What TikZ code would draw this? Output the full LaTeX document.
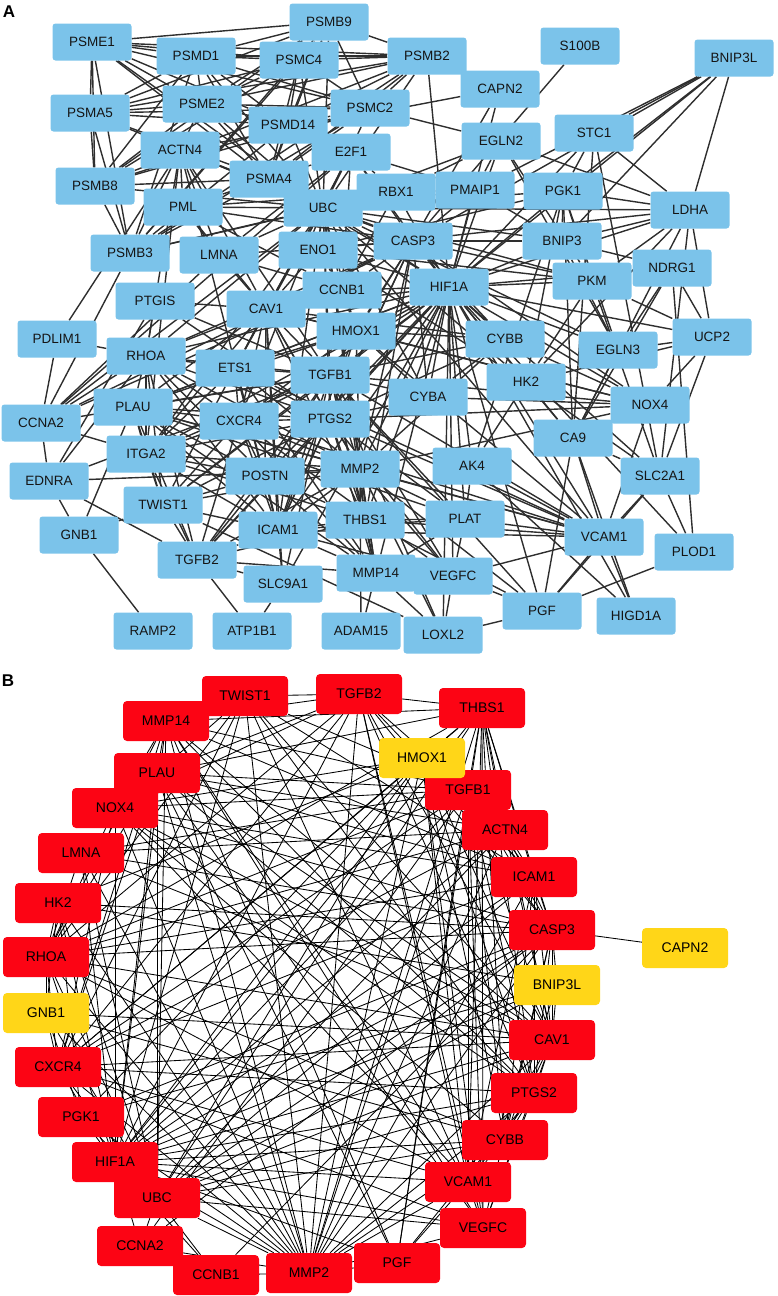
\documentclass[tikz,border=0pt]{standalone}
\usepackage{fontspec}
\setmainfont{Liberation Sans}
\usetikzlibrary{backgrounds}
\definecolor{ablue}{HTML}{7BC3EA}
\definecolor{bred}{HTML}{FC0414}
\definecolor{byel}{HTML}{FFD618}
\definecolor{egray}{HTML}{2E2E2E}
\definecolor{txt}{HTML}{151515}
\tikzset{
  anode/.style={rectangle, rounded corners=3pt, fill=ablue, minimum width=79pt, minimum height=37pt, inner sep=0pt, text=txt, font=\fontsize{13.5}{13.5}\selectfont},
  bnode/.style={rectangle, rounded corners=4pt, fill=bred, minimum width=86pt, minimum height=40pt, inner sep=0pt, text=black, font=\fontsize{14}{14}\selectfont},
  ylw/.style={fill=byel},
  aedge/.style={draw=egray, line width=1.4pt},
  bedge/.style={draw=black, line width=0.85pt},
  panellabel/.style={font=\fontsize{17}{17}\selectfont\bfseries, inner sep=0pt}
}
\begin{document}
\begin{tikzpicture}[x=1pt, y=-1pt]
\useasboundingbox (0,0) rectangle (777,1296);
\node[panellabel] (labA) at (9,12) {A};
\node[panellabel] (labB) at (8,681) {B};
% ---------------- Panel A nodes ----------------
\foreach \n/\x/\y in {PSME1/92/42, PSMB9/329/22, PSMD1/196/56, PSMC4/299/60, PSMB2/427/56, S100B/580/46, BNIP3L/734/58,
  CAPN2/500/89, PSMA5/90/113, PSME2/202/104, PSMC2/370/108, PSMD14/288/125, EGLN2/501/141, STC1/594/133,
  ACTN4/180/150, E2F1/351/152, PSMB8/95/186, PSMA4/269/179, RBX1/396/192, PMAIP1/475/190, PGK1/563/191,
  LDHA/690/210, PML/183/207, UBC/323/208, PSMB3/130/253, LMNA/219/255, ENO1/318/250, CASP3/413/241,
  BNIP3/562/241, NDRG1/672/268, HIF1A/449/287, PKM/592/281, CCNB1/342/290, PTGIS/155/301, CAV1/266/309,
  PDLIM1/57/339, HMOX1/356/331, CYBB/505/339, UCP2/712/337, EGLN3/618/350, RHOA/146/356, ETS1/235/368,
  TGFB1/330/375, HK2/526/382, CYBA/428/397, NOX4/650/405, PLAU/133/407, CCNA2/41/423, CXCR4/239/421,
  PTGS2/330/419, CA9/573/438, ITGA2/146/454, EDNRA/49/481, POSTN/265/476, MMP2/360/469, AK4/472/466,
  SLC2A1/660/476, TWIST1/163/505, THBS1/365/520, PLAT/465/519, GNB1/79/535, ICAM1/278/530, VCAM1/604/537,
  PLOD1/694/552, TGFB2/197/560, SLC9A1/283/584, MMP14/376/573, VEGFC/453/576, PGF/542/611, HIGD1A/636/616,
  RAMP2/153/631, ATP1B1/252/631, ADAM15/361/631, LOXL2/443/635}
  \node[anode] (a\n) at (\x,\y) {\n};
% ---------------- Panel A edges ----------------
\begin{scope}[on background layer]
\foreach \p [count=\i] in {PSME1,PSMB9,PSMD1,PSMC4,PSMB2,PSMA5,PSME2,PSMC2,PSMD14,PSMB8,PSMA4,PSMB3}{
  \foreach \q [count=\j] in {PSME1,PSMB9,PSMD1,PSMC4,PSMB2,PSMA5,PSME2,PSMC2,PSMD14,PSMB8,PSMA4,PSMB3}{
    \ifnum\j>\i \draw[aedge] (a\p) -- (a\q); \fi
  }
  \draw[aedge] (a\p) -- (aUBC);
}
\foreach \u/\v in {
 UBC/RBX1, UBC/E2F1, UBC/PML, UBC/ACTN4, UBC/LMNA, UBC/ENO1, UBC/CASP3, UBC/HIF1A, UBC/CCNB1, UBC/CAV1,
 UBC/HMOX1, UBC/RHOA, UBC/TGFB1, UBC/CXCR4, UBC/PTGS2, UBC/PKM, UBC/PGK1, UBC/BNIP3, UBC/EGLN2, UBC/EGLN3,
 UBC/PMAIP1, UBC/ICAM1, UBC/ITGA2, UBC/MMP2, UBC/VCAM1, UBC/CYBA, UBC/LDHA, UBC/ETS1, UBC/HK2, UBC/CCNA2,
 UBC/THBS1, UBC/MMP14, PSMB3/RBX1, PSMA4/HIF1A, PSMD14/E2F1, PSMC2/EGLN2, PSMB2/CAPN2, PSMB2/HIF1A,
 HIF1A/EGLN2, HIF1A/EGLN3, HIF1A/LDHA, HIF1A/PGK1, HIF1A/BNIP3, HIF1A/BNIP3L, HIF1A/PKM, HIF1A/ENO1, HIF1A/CA9,
 HIF1A/SLC2A1, HIF1A/VEGFC, HIF1A/PGF, HIF1A/NDRG1, HIF1A/HK2, HIF1A/PMAIP1, HIF1A/CAV1, HIF1A/HMOX1,
 HIF1A/TGFB1, HIF1A/PTGS2, HIF1A/CXCR4, HIF1A/TWIST1, HIF1A/ETS1, HIF1A/CASP3, HIF1A/RBX1, HIF1A/E2F1,
 HIF1A/VCAM1, HIF1A/PLOD1, HIF1A/LOXL2, HIF1A/HIGD1A, HIF1A/STC1, HIF1A/AK4, HIF1A/NOX4, HIF1A/CYBB,
 HIF1A/CYBA, HIF1A/MMP2, HIF1A/MMP14, HIF1A/ICAM1, HIF1A/PLAU, HIF1A/PLAT, HIF1A/ITGA2, HIF1A/THBS1,
 HIF1A/RHOA, HIF1A/CCNB1, HIF1A/UCP2, HIF1A/SLC9A1, HIF1A/POSTN, HIF1A/TGFB2, HIF1A/CAPN2,
 TGFB1/TGFB2, TGFB1/THBS1, TGFB1/MMP2, TGFB1/MMP14, TGFB1/PTGS2, TGFB1/CAV1, TGFB1/HMOX1, TGFB1/ICAM1,
 TGFB1/VCAM1, TGFB1/ITGA2, TGFB1/RHOA, TGFB1/ETS1, TGFB1/CXCR4, TGFB1/PLAU, TGFB1/PLAT, TGFB1/POSTN,
 TGFB1/TWIST1, TGFB1/CASP3, TGFB1/CYBB, TGFB1/CYBA, TGFB1/NOX4, TGFB1/ACTN4, TGFB1/LOXL2, TGFB1/CCNA2,
 TGFB1/SLC9A1, TGFB1/EDNRA, TGFB1/PTGIS, TGFB1/VEGFC, TGFB1/PGF,
 MMP2/MMP14, MMP2/THBS1, MMP2/PTGS2, MMP2/CAV1, MMP2/ICAM1, MMP2/VCAM1, MMP2/ITGA2, MMP2/POSTN, MMP2/TWIST1,
 MMP2/PLAU, MMP2/PLAT, MMP2/CXCR4, MMP2/ETS1, MMP2/HMOX1, MMP2/CASP3, MMP2/RHOA, MMP2/VEGFC, MMP2/LOXL2,
 MMP2/TGFB2, MMP2/ADAM15, MMP2/NOX4, MMP2/CYBB, MMP2/EDNRA, MMP2/PGF,
 CASP3/PMAIP1, CASP3/BNIP3, CASP3/E2F1, CASP3/PML, CASP3/ACTN4, CASP3/LMNA, CASP3/CCNB1, CASP3/CAV1,
 CASP3/HMOX1, CASP3/PTGS2, CASP3/ICAM1, CASP3/RHOA, CASP3/S100B, CASP3/CAPN2, CASP3/BNIP3L, CASP3/CCNA2,
 CASP3/THBS1, CASP3/CYBB, CASP3/CYBA, CASP3/NOX4, CASP3/PKM,
 PGK1/ENO1, PGK1/PKM, PGK1/LDHA, PGK1/HK2, ENO1/PKM, ENO1/LDHA, ENO1/HK2, PKM/LDHA, PKM/HK2, LDHA/HK2,
 HK2/SLC2A1, SLC2A1/LDHA, SLC2A1/PKM, AK4/PGK1, AK4/HK2, CA9/SLC2A1, CA9/LDHA, CA9/PGK1, CA9/HK2,
 CA9/NDRG1, CA9/EGLN3, NDRG1/BNIP3, BNIP3/BNIP3L, BNIP3/EGLN3, BNIP3/PGK1, BNIP3/LDHA, EGLN3/EGLN2,
 EGLN3/NDRG1, EGLN3/PGK1, EGLN2/LDHA, EGLN2/PKM, EGLN2/RBX1, STC1/LDHA, STC1/PGK1, STC1/BNIP3L, STC1/CA9,
 STC1/SLC2A1, NOX4/CYBB, NOX4/CYBA, CYBB/CYBA, CYBB/HMOX1, CYBA/HMOX1, NOX4/HMOX1, NOX4/UCP2,
 UCP2/EGLN3, UCP2/NDRG1, UCP2/LDHA, UCP2/SLC2A1, UCP2/HK2, UCP2/PKM, HIGD1A/AK4, HIGD1A/CA9,
 PLOD1/SLC2A1, PLOD1/PGF, PLOD1/NDRG1, PGF/VCAM1, PGF/VEGFC, PGF/LOXL2, PGF/CA9, PGF/SLC2A1, PGF/THBS1,
 VEGFC/MMP14, VEGFC/LOXL2, VEGFC/PLAT, VEGFC/CXCR4, VEGFC/PTGS2, VEGFC/VCAM1, VEGFC/ICAM1,
 LOXL2/TWIST1, LOXL2/MMP14, ADAM15/MMP14, THBS1/MMP14, THBS1/ICAM1, THBS1/VCAM1, THBS1/ITGA2, THBS1/CAV1,
 THBS1/POSTN, THBS1/PLAT, THBS1/TGFB2, PLAT/PLAU, PLAT/MMP14, PLAT/ICAM1, PLAT/VCAM1, PLAT/AK4,
 VCAM1/ICAM1, VCAM1/PTGS2, VCAM1/HMOX1, VCAM1/CXCR4, VCAM1/ETS1, VCAM1/NOX4, VCAM1/CA9, VCAM1/SLC2A1, VCAM1/AK4,
 ICAM1/PTGS2, ICAM1/HMOX1, ICAM1/CXCR4, ICAM1/ETS1, ICAM1/RHOA, ICAM1/ITGA2, ICAM1/POSTN, ICAM1/CAV1,
 ICAM1/TWIST1, ICAM1/TGFB2, ICAM1/SLC9A1, ICAM1/ACTN4, ICAM1/PLAU,
 RHOA/CAV1, RHOA/ACTN4, RHOA/PTGIS, RHOA/PDLIM1, RHOA/ETS1, RHOA/CXCR4, RHOA/ITGA2, RHOA/PLAU, RHOA/TGFB2,
 RHOA/CCNA2, RHOA/EDNRA, RHOA/TWIST1, RHOA/PTGS2, RHOA/POSTN, PDLIM1/ACTN4, PDLIM1/CCNA2,
 PTGIS/PTGS2, PTGIS/EDNRA, PTGIS/CAV1, EDNRA/GNB1, EDNRA/TGFB2, EDNRA/CCNA2, GNB1/RAMP2, GNB1/PLAU, GNB1/TWIST1,
 CCNA2/E2F1, CCNA2/CCNB1, CCNA2/LMNA, CCNA2/PSMB3, CCNA2/ITGA2, CCNB1/E2F1, CCNB1/PML, CCNB1/LMNA, CCNB1/RBX1,
 CCNB1/ENO1, CCNB1/HMOX1, CCNB1/CAV1, TWIST1/TGFB2, TWIST1/POSTN, TWIST1/CXCR4, TWIST1/ITGA2, TWIST1/PTGS2,
 TWIST1/PLAU, TWIST1/ETS1, TGFB2/POSTN, TGFB2/ITGA2, TGFB2/PLAU, TGFB2/CXCR4, TGFB2/SLC9A1, TGFB2/ATP1B1,
 TGFB2/MMP14, TGFB2/PTGS2, POSTN/ITGA2, POSTN/MMP14, POSTN/PLAU, POSTN/CXCR4, POSTN/CAV1,
 ITGA2/ACTN4, ITGA2/CAV1, ITGA2/PLAU, ITGA2/CXCR4, ITGA2/PTGS2, ITGA2/ETS1,
 PLAU/CXCR4, PLAU/ETS1, PLAU/PTGS2, PLAU/CAV1, PLAU/MMP14, PLAU/VCAM1, PLAU/HMOX1,
 CXCR4/ETS1, CXCR4/PTGS2, CXCR4/CAV1, CXCR4/HMOX1, CXCR4/MMP14, ETS1/PTGS2, ETS1/CAV1, ETS1/HMOX1,
 ETS1/MMP14, ETS1/E2F1, CAV1/ACTN4, CAV1/LMNA, CAV1/ENO1, CAV1/HMOX1, CAV1/PTGS2, CAV1/PML, CAV1/NOX4, CAV1/CYBB,
 PML/E2F1, PML/RBX1, PML/LMNA, PML/ACTN4, LMNA/ACTN4, LMNA/E2F1, E2F1/RBX1, E2F1/PMAIP1, RBX1/PMAIP1,
 PMAIP1/BNIP3, PMAIP1/BNIP3L, PMAIP1/EGLN2, BNIP3L/LDHA, BNIP3L/PGK1, CAPN2/ACTN4,
 SLC9A1/ATP1B1, SLC9A1/CAV1, HMOX1/PTGS2, PTGS2/CYBB, PTGS2/CYBA, PTGS2/NOX4, PTGS2/MMP14, PTGS2/PLAT,
 PTGS2/THBS1, ICAM1/MMP14, VCAM1/HIGD1A}
  \draw[aedge] (a\u) -- (a\v);
\end{scope}
% ---------------- Panel B nodes ----------------
\foreach \n/\x/\y in {TWIST1/245/696, TGFB2/359/694, THBS1/482/708, MMP14/166/721, PLAU/157/773, NOX4/115/808,
  TGFB1/468/790, ACTN4/505/830, LMNA/81/853, ICAM1/534/877, HK2/58/903, CASP3/552/930, RHOA/46/957,
  CAV1/552/1040, CXCR4/58/1067, PTGS2/534/1093, PGK1/81/1117, CYBB/505/1140, HIF1A/115/1162, VCAM1/468/1182,
  UBC/157/1198, VEGFC/483/1228, CCNA2/140/1246, PGF/397/1263, CCNB1/216/1275, MMP2/309/1273}
  \node[bnode] (b\n) at (\x,\y) {\n};
\foreach \n/\x/\y in {HMOX1/422/758, CAPN2/685/948, BNIP3L/557/985, GNB1/46/1013}
  \node[bnode, ylw] (b\n) at (\x,\y) {\n};
% ---------------- Panel B edges ----------------
\begin{scope}[on background layer]
\foreach \u/\v in {
 TWIST1/TGFB2, TWIST1/MMP2, TWIST1/HIF1A, TWIST1/CXCR4, TWIST1/TGFB1, TWIST1/MMP14, TWIST1/PLAU, TWIST1/ICAM1,
 TWIST1/RHOA, TWIST1/CAV1, TWIST1/PTGS2, TWIST1/VCAM1,
 TGFB2/THBS1, TGFB2/MMP2, TGFB2/TGFB1, TGFB2/MMP14, TGFB2/PLAU, TGFB2/CXCR4, TGFB2/ICAM1, TGFB2/CAV1,
 TGFB2/PTGS2, TGFB2/VEGFC, TGFB2/HIF1A, TGFB2/RHOA, TGFB2/CASP3, TGFB2/VCAM1, TGFB2/NOX4,
 THBS1/TGFB1, THBS1/MMP2, THBS1/MMP14, THBS1/PLAU, THBS1/ICAM1, THBS1/CAV1, THBS1/PTGS2, THBS1/VCAM1,
 THBS1/VEGFC, THBS1/PGF, THBS1/HIF1A, THBS1/CASP3, THBS1/ACTN4, THBS1/HMOX1, THBS1/CXCR4, THBS1/CYBB,
 THBS1/RHOA, THBS1/UBC,
 HMOX1/TGFB1, HMOX1/ICAM1, HMOX1/VCAM1, HMOX1/PTGS2, HMOX1/CAV1, HMOX1/CYBB, HMOX1/NOX4, HMOX1/HIF1A,
 HMOX1/CASP3, HMOX1/MMP2, HMOX1/UBC, HMOX1/CXCR4, HMOX1/PGK1, HMOX1/HK2, HMOX1/VEGFC,
 TGFB1/ICAM1, TGFB1/CASP3, TGFB1/CAV1, TGFB1/PTGS2, TGFB1/VCAM1, TGFB1/VEGFC, TGFB1/MMP2, TGFB1/HIF1A,
 TGFB1/PLAU, TGFB1/MMP14, TGFB1/NOX4, TGFB1/RHOA, TGFB1/CXCR4, TGFB1/CYBB, TGFB1/ACTN4, TGFB1/CCNA2,
 TGFB1/PGF, TGFB1/LMNA,
 ACTN4/ICAM1, ACTN4/CAV1, ACTN4/RHOA, ACTN4/CASP3, ACTN4/UBC, ACTN4/LMNA, ACTN4/MMP2, ACTN4/PLAU,
 ACTN4/HIF1A, ACTN4/CXCR4,
 ICAM1/VCAM1, ICAM1/CAV1, ICAM1/PTGS2, ICAM1/CASP3, ICAM1/MMP2, ICAM1/MMP14, ICAM1/RHOA, ICAM1/CXCR4,
 ICAM1/NOX4, ICAM1/CYBB, ICAM1/HIF1A, ICAM1/UBC, ICAM1/PLAU,
 CASP3/CAPN2, CASP3/BNIP3L, CASP3/CAV1, CASP3/PTGS2, CASP3/CCNB1, CASP3/CCNA2, CASP3/UBC, CASP3/HIF1A,
 CASP3/RHOA, CASP3/LMNA, CASP3/MMP2, CASP3/HK2, CASP3/PGK1, CASP3/CYBB, CASP3/NOX4, CASP3/VEGFC,
 BNIP3L/HIF1A, BNIP3L/CAV1, BNIP3L/PGK1, BNIP3L/HK2, BNIP3L/UBC, BNIP3L/CYBB,
 CAV1/PTGS2, CAV1/CYBB, CAV1/VCAM1, CAV1/MMP2, CAV1/HIF1A, CAV1/RHOA, CAV1/UBC, CAV1/NOX4, CAV1/CXCR4,
 CAV1/VEGFC, CAV1/PLAU, CAV1/MMP14, CAV1/LMNA, CAV1/GNB1,
 PTGS2/CYBB, PTGS2/VCAM1, PTGS2/VEGFC, PTGS2/MMP2, PTGS2/HIF1A, PTGS2/CXCR4, PTGS2/NOX4, PTGS2/PLAU,
 PTGS2/MMP14, PTGS2/UBC, PTGS2/PGF,
 CYBB/VCAM1, CYBB/NOX4, CYBB/HIF1A, CYBB/RHOA, CYBB/MMP2, CYBB/UBC, CYBB/GNB1,
 VCAM1/VEGFC, VCAM1/MMP2, VCAM1/HIF1A, VCAM1/CXCR4, VCAM1/RHOA, VCAM1/NOX4, VCAM1/PGF, VCAM1/MMP14,
 VEGFC/PGF, VEGFC/MMP2, VEGFC/HIF1A, VEGFC/CXCR4, VEGFC/MMP14, VEGFC/PLAU, VEGFC/UBC,
 PGF/MMP2, PGF/HIF1A, PGF/MMP14, PGF/PLAU,
 MMP2/CCNB1, MMP2/HIF1A, MMP2/CXCR4, MMP2/RHOA, MMP2/NOX4, MMP2/PLAU, MMP2/MMP14, MMP2/UBC, MMP2/PGK1,
 MMP2/HK2, MMP2/LMNA, MMP2/CCNA2, MMP2/GNB1,
 CCNB1/CCNA2, CCNB1/UBC, CCNB1/HIF1A, CCNA2/UBC, CCNA2/HIF1A,
 UBC/HIF1A, UBC/PGK1, UBC/HK2, UBC/RHOA, UBC/LMNA, UBC/CXCR4, UBC/MMP14, UBC/PLAU, UBC/GNB1,
 HIF1A/PGK1, HIF1A/HK2, HIF1A/CXCR4, HIF1A/RHOA, HIF1A/NOX4, HIF1A/PLAU, HIF1A/MMP14, HIF1A/LMNA,
 PGK1/HK2, PGK1/GNB1, CXCR4/GNB1, CXCR4/RHOA, CXCR4/PLAU, CXCR4/MMP14, CXCR4/NOX4,
 GNB1/RHOA, GNB1/HK2, RHOA/PLAU, RHOA/NOX4, RHOA/LMNA, RHOA/MMP14, RHOA/HK2, NOX4/MMP14, PLAU/MMP14}
  \draw[bedge] (b\u) -- (b\v);
\end{scope}
\end{tikzpicture}
\end{document}
